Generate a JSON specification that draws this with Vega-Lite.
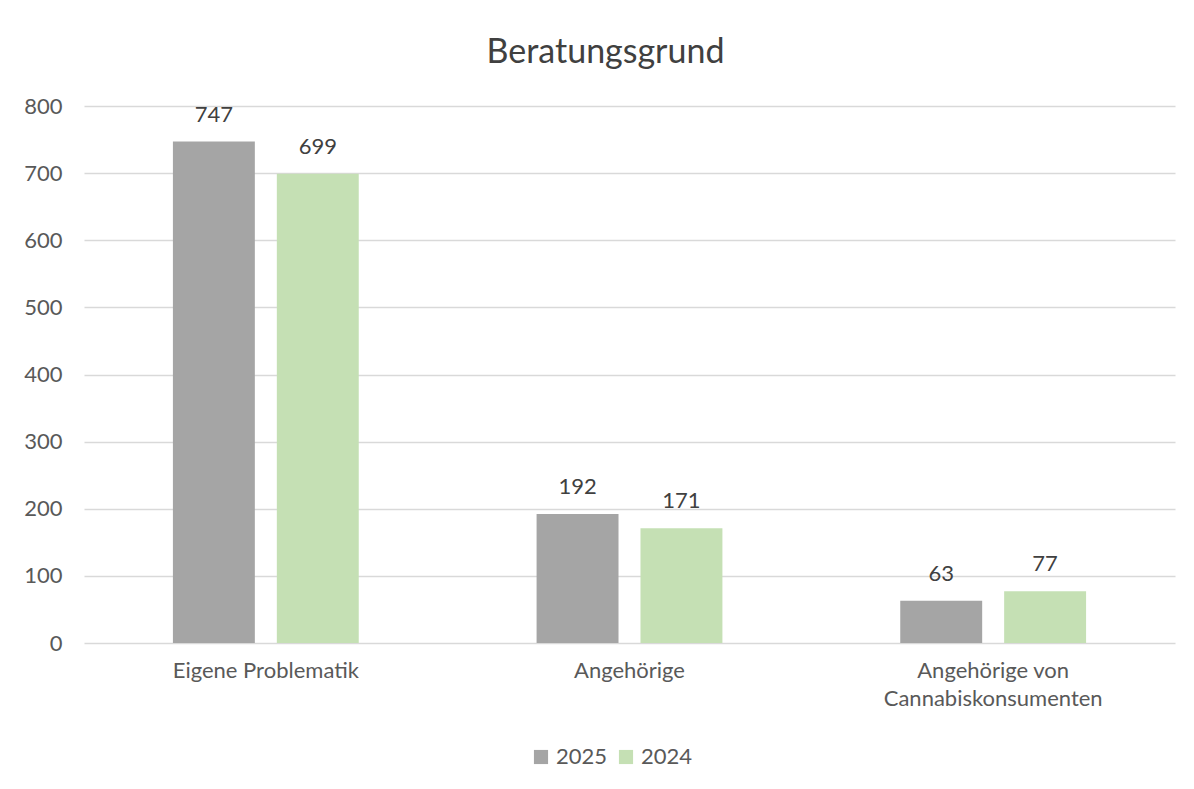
{
  "$schema": "https://vega.github.io/schema/vega-lite/v6.json",
  "autosize": {"type": "none"},
  "padding": {"left": 84, "top": 106, "right": 19, "bottom": 146},
  "width": 1091,
  "height": 537,
  "background": "white",
  "title": {
    "text": "Beratungsgrund",
    "fontSize": 34,
    "font": "Lato",
    "fontWeight": "normal",
    "color": "#404040",
    "anchor": "middle",
    "dx": -24,
    "offset": 25
  },
  "data": {
    "values": [
      {"Grund": "Eigene Problematik", "Jahr": "2025", "Anzahl": 747},
      {"Grund": "Eigene Problematik", "Jahr": "2024", "Anzahl": 699},
      {"Grund": "Angehörige", "Jahr": "2025", "Anzahl": 192},
      {"Grund": "Angehörige", "Jahr": "2024", "Anzahl": 171},
      {"Grund": "Angehörige von Cannabiskonsumenten", "Jahr": "2025", "Anzahl": 63},
      {"Grund": "Angehörige von Cannabiskonsumenten", "Jahr": "2024", "Anzahl": 77}
    ]
  },
  "encoding": {
    "x": {
      "field": "Grund",
      "type": "nominal",
      "sort": ["Eigene Problematik", "Angehörige", "Angehörige von Cannabiskonsumenten"],
      "scale": {"paddingInner": 0.489, "paddingOuter": 0.2445},
      "axis": {
        "title": null,
        "labelAngle": 0,
        "labelFont": "Lato",
        "labelFontSize": 22,
        "labelColor": "#595959",
        "labelPadding": 17,
        "labelLineHeight": 28,
        "labelLimit": 500,
        "ticks": false,
        "domain": false,
        "grid": false,
        "labelExpr": "datum.value == 'Angehörige von Cannabiskonsumenten' ? ['Angehörige von', 'Cannabiskonsumenten'] : datum.value"
      }
    },
    "xOffset": {
      "field": "Jahr",
      "type": "nominal",
      "sort": ["2025", "2024"],
      "scale": {"paddingInner": 0.2115, "paddingOuter": 0}
    },
    "y": {
      "field": "Anzahl",
      "type": "quantitative",
      "scale": {"domain": [0, 800], "nice": false},
      "axis": {
        "title": null,
        "values": [0, 100, 200, 300, 400, 500, 600, 700, 800],
        "labelFont": "Lato",
        "labelFontSize": 22,
        "labelColor": "#595959",
        "labelPadding": 22,
        "ticks": false,
        "domain": false,
        "gridColor": "#D9D9D9",
        "gridWidth": 1.3
      }
    },
    "color": {
      "field": "Jahr",
      "type": "nominal",
      "sort": ["2025", "2024"],
      "scale": {"domain": ["2025", "2024"], "range": ["#A5A5A5", "#C5E0B4"]},
      "legend": {
        "title": null,
        "orient": "none",
        "legendX": 446,
        "legendY": 640,
        "direction": "horizontal",
        "symbolType": "square",
        "symbolSize": 200,
        "symbolStrokeWidth": 0,
        "symbolOpacity": 1,
        "labelFont": "Lato",
        "labelFontSize": 22,
        "labelColor": "#595959",
        "columnPadding": 7
      }
    }
  },
  "layer": [
    {"mark": {"type": "bar", "opacity": 1}},
    {
      "mark": {"type": "text", "baseline": "alphabetic", "dy": -20, "font": "Lato", "fontSize": 22, "color": "#404040"},
      "encoding": {"text": {"field": "Anzahl", "type": "quantitative"}, "color": {"value": "#404040"}}
    }
  ],
  "config": {"view": {"stroke": null}}
}
